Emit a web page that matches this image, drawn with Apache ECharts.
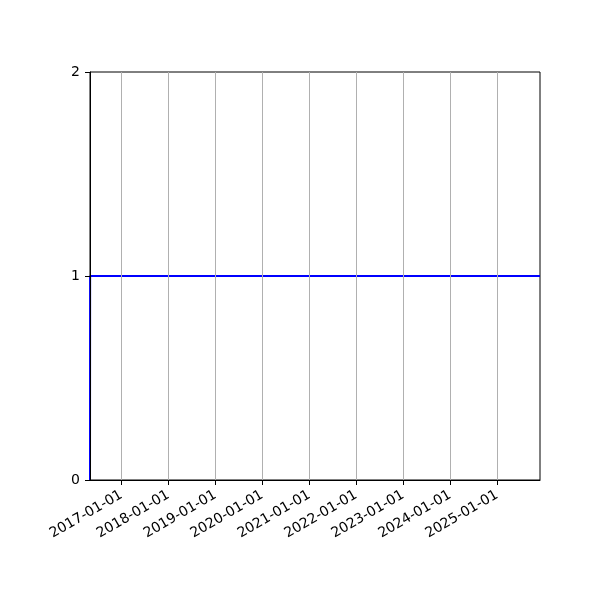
<!DOCTYPE html>
<html>
<head>
<meta charset="utf-8">
<script src="https://cdn.jsdelivr.net/npm/echarts@6/dist/echarts.min.js"></script>
<style>
html,body{margin:0;padding:0;background:#fff;}
#chart{width:600px;height:600px;}
</style>
</head>
<body>
<div id="chart"></div>
<script>
const dates = ['2016-05-01', '2016-05-02', '2025-12-01'];
const values = [0, 1, 1];
const xTickLabels = ['2017-01-01','2018-01-01','2019-01-01','2020-01-01','2021-01-01','2022-01-01','2023-01-01','2024-01-01','2025-01-01'];
const yTicks = [0, 1, 2];

function ts(s) { const p = s.split('-').map(Number); return Date.UTC(p[0], p[1]-1, p[2]); }
function fmt(v) {
  const d = new Date(v);
  const pad = n => String(n).padStart(2, '0');
  return d.getUTCFullYear() + '-' + pad(d.getUTCMonth()+1) + '-' + pad(d.getUTCDate());
}
const xTickValues = xTickLabels.map(ts);
const seriesData = dates.map((d, i) => [ts(d), values[i]]);

const chart = echarts.init(document.getElementById('chart'), null, {renderer: 'canvas'});
chart.setOption({
  animation: false,
  backgroundColor: '#fff',
  grid: { left: 90, right: 60, top: 72, bottom: 120, show: true, borderColor: '#000', borderWidth: 1, backgroundColor: 'transparent' },
  xAxis: {
    type: 'value',
    z: 10,
    min: ts(dates[0]),
    max: ts(dates[dates.length-1]),
    axisLine: { show: true, onZero: false, lineStyle: { color: '#000', width: 1 } },
    axisTick: { show: true, inside: false, length: 5, lineStyle: { color: '#000', width: 1 }, customValues: xTickValues },
    axisLabel: { show: true, rotate: 30, color: '#000', fontSize: 14, fontFamily: 'DejaVu Sans', margin: 14, customValues: xTickValues, formatter: v => fmt(v) },
    splitLine: { show: true, lineStyle: { color: '#b0b0b0', width: 1 } }
  },
  yAxis: {
    type: 'value',
    z: 10,
    min: yTicks[0],
    max: yTicks[yTicks.length-1],
    interval: 1,
    axisLine: { show: true, lineStyle: { color: '#000', width: 1 } },
    axisTick: { show: true, inside: false, length: 5, lineStyle: { color: '#000', width: 1 } },
    axisLabel: { color: '#000', fontSize: 14, fontFamily: 'DejaVu Sans', margin: 10 },
    splitLine: { show: false }
  },
  series: [{
    type: 'line',
    z: 1,
    data: seriesData,
    showSymbol: false,
    symbol: 'none',
    lineStyle: { color: '#0000ff', width: 2 },
    itemStyle: { color: '#0000ff' }
  }]
});
</script>
</body>
</html>
